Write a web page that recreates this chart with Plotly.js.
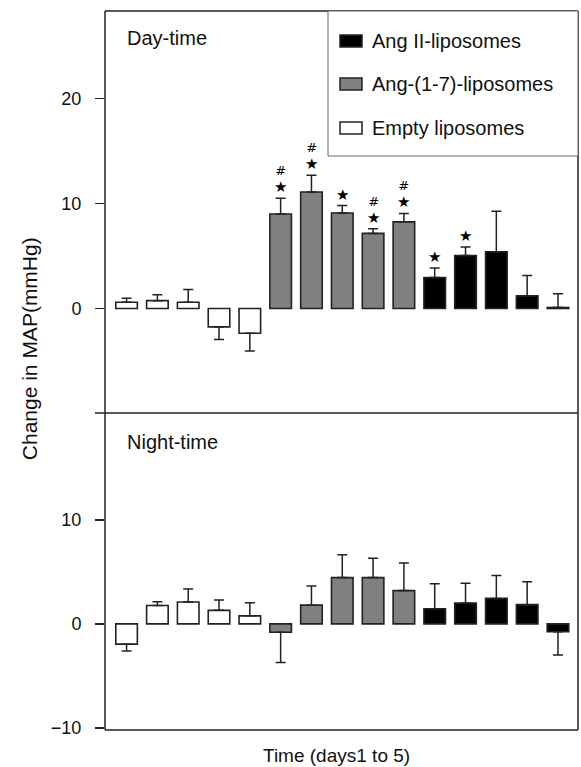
<!DOCTYPE html>
<html>
<head>
<meta charset="utf-8">
<script src="https://cdn.plot.ly/plotly-3.0.1.min.js"></script>
<style>html,body{margin:0;padding:0;background:#fff;}#chart{width:581px;height:767px;}</style>
</head>
<body>
<div id="chart"></div>
<script>
// ---- data ----
var seriesNames = ["Empty liposomes", "Ang-(1-7)-liposomes", "Ang II-liposomes"];
var legendOrder = [2, 1, 0];
var xEmpty = [0, 1, 2, 3, 4];
var xAng17 = [5, 6, 7, 8, 9];
var xAngII = [10, 11, 12, 13, 14];

var dayEmpty = [0.6, 0.75, 0.6, -1.75, -2.35];
var dayEmptyErr = [0.37, 0.55, 1.2, 1.2, 1.7];
var dayAng17 = [9.0, 11.1, 9.1, 7.15, 8.25];
var dayAng17Err = [1.5, 1.6, 0.7, 0.45, 0.8];
var dayAngII = [2.95, 5.05, 5.4, 1.2, 0.1];
var dayAngIIErr = [0.9, 0.8, 3.85, 1.95, 1.3];

var nightEmpty = [-1.95, 1.76, 2.1, 1.3, 0.77];
var nightEmptyErr = [0.65, 0.36, 1.25, 1.0, 1.25];
var nightAng17 = [-0.8, 1.8, 4.45, 4.45, 3.2];
var nightAng17Err = [2.9, 1.85, 2.2, 1.85, 2.65];
var nightAngII = [1.45, 2.0, 2.45, 1.85, -0.75];
var nightAngIIErr = [2.4, 1.9, 2.2, 2.2, 2.25];

// significance marks (day-time), by bar index
var starIdx = [5, 6, 7, 8, 9, 10, 11];
var hashIdx = [5, 6, 8, 9];

var dayTicks = [0, 10, 20];
var nightTicks = [-10, 0, 10];

// ---- helpers ----
var fills = ["#ffffff", "#808080", "#000000"];
var lc = "#222";
function errObj(vals, errs) {
  return {
    type: "data", symmetric: false, visible: true,
    array: vals.map(function (v, i) { return v >= 0 ? errs[i] : 0; }),
    arrayminus: vals.map(function (v, i) { return v < 0 ? errs[i] : 0; }),
    color: lc, thickness: 1.5, width: 5
  };
}
function barTrace(k, xs, vals, errs, yax) {
  return {
    type: "bar", x: xs, y: vals, width: 0.7, yaxis: yax, xaxis: "x",
    name: seriesNames[k], showlegend: false,
    marker: { color: fills[k], line: { color: lc, width: 1.6 } },
    error_y: errObj(vals, errs), hoverinfo: "skip"
  };
}

var data = [
  barTrace(0, xEmpty, dayEmpty, dayEmptyErr, "y"),
  barTrace(1, xAng17, dayAng17, dayAng17Err, "y"),
  barTrace(2, xAngII, dayAngII, dayAngIIErr, "y"),
  barTrace(0, xEmpty, nightEmpty, nightEmptyErr, "y2"),
  barTrace(1, xAng17, nightAng17, nightAng17Err, "y2"),
  barTrace(2, xAngII, nightAngII, nightAngIIErr, "y2")
];

var dayAll = dayEmpty.concat(dayAng17, dayAngII);
var dayErrAll = dayEmptyErr.concat(dayAng17Err, dayAngIIErr);
function topOf(i) { return dayAll[i] + (dayAll[i] >= 0 ? dayErrAll[i] : 0); }

var FONT = "Liberation Sans, Arial, Helvetica, sans-serif";
var annotations = [];
starIdx.forEach(function (i) {
  var txt = (hashIdx.indexOf(i) >= 0 ? "#<br>" : "") + "<span style='font-size:15px'>★</span>";
  annotations.push({ x: i, y: topOf(i), xref: "x", yref: "y", text: txt, showarrow: false,
    yshift: 0, yanchor: "bottom", font: { family: "DejaVu Sans", size: 13, color: "#000" } });
});
annotations.push({ x: 0.0423, y: 0.9625, xref: "paper", yref: "paper", text: "Day-time", showarrow: false,
  xanchor: "left", yanchor: "middle", font: { family: FONT, size: 20, color: "#111" } });
annotations.push({ x: 0.0423, y: 0.401, xref: "paper", yref: "paper", text: "Night-time", showarrow: false,
  xanchor: "left", yanchor: "middle", font: { family: FONT, size: 20, color: "#111" } });
annotations.push({ x: 0.489, y: -0.035, xref: "paper", yref: "paper", text: "Time (days1 to 5)", showarrow: false,
  xanchor: "center", yanchor: "middle", font: { family: FONT, size: 19, color: "#111" } });
annotations.push({ x: -0.158, y: 0.53, xref: "paper", yref: "paper", text: "Change in MAP(mmHg)", showarrow: false,
  textangle: -90, xanchor: "center", yanchor: "middle", font: { family: FONT, size: 21, color: "#111" } });

var split = 317 / 719;
var shapes = [
  { type: "line", xref: "paper", yref: "paper", x0: 0, x1: 1, y0: 1, y1: 1, line: { color: lc, width: 1.5 } },
  { type: "line", xref: "paper", yref: "paper", x0: 0, x1: 1, y0: 0, y1: 0, line: { color: lc, width: 1.5 } },
  { type: "line", xref: "paper", yref: "paper", x0: 0, x1: 0, y0: 0, y1: 1, line: { color: lc, width: 1.5 } },
  { type: "line", xref: "paper", yref: "paper", x0: 1, x1: 1, y0: 0, y1: 1, line: { color: lc, width: 1.5 } },
  { type: "line", xref: "paper", yref: "paper", x0: -10 / 473, x1: 1, y0: split, y1: split, line: { color: lc, width: 1.5 } }
];

// ---- legend (box, swatches, labels) ----
var PW = 473, PH = 719, PL = 105, PT = 11;
function px(xp) { return (xp - PL) / PW; }
function py(yp) { return (PH + PT - yp) / PH; }
shapes.push({ type: "rect", xref: "paper", yref: "paper", x0: px(328), x1: 1, y0: py(156), y1: 1,
  fillcolor: "#fff", line: { color: "#666", width: 1 }, layer: "above" });
var legY = [41, 84, 128];
legendOrder.forEach(function (k, j) {
  shapes.push({ type: "rect", xref: "paper", yref: "paper", x0: px(340), x1: px(362),
    y0: py(legY[j] + 6), y1: py(legY[j] - 6), fillcolor: fills[k], line: { color: lc, width: 1.5 }, layer: "above" });
  annotations.push({ x: px(370), y: py(legY[j]), xref: "paper", yref: "paper", text: seriesNames[k], showarrow: false,
    xanchor: "left", yanchor: "middle", font: { family: FONT, size: 20, color: "#111" } });
});

var yCommon = {
  showgrid: false, zeroline: false, showline: false, ticks: "outside", ticklen: 9, tickwidth: 1.5,
  tickcolor: lc, ticklabelstandoff: 10, tickfont: { family: FONT, size: 18, color: "#111" }, fixedrange: true
};

var layout = {
  width: 581, height: 767,
  margin: { l: 105, r: 3, t: 11, b: 37, pad: 0 },
  paper_bgcolor: "#fff", plot_bgcolor: "#fff",
  barmode: "overlay", bargap: 0,
  showlegend: false,
  xaxis: { anchor: "y2", domain: [0, 1], range: [-0.7, 14.65], showgrid: false, zeroline: false,
    showticklabels: false, ticks: "", showline: false, fixedrange: true },
  yaxis: Object.assign({}, yCommon, { domain: [split, 1], range: [-9.95, 28.33], tickvals: dayTicks, anchor: "x" }),
  yaxis2: Object.assign({}, yCommon, { domain: [0, split], range: [-10.2, 20.27], tickvals: nightTicks, anchor: "x" }),
  annotations: annotations,
  shapes: shapes
};

Plotly.newPlot("chart", data, layout, { staticPlot: true, displayModeBar: false });
</script>
</body>
</html>
